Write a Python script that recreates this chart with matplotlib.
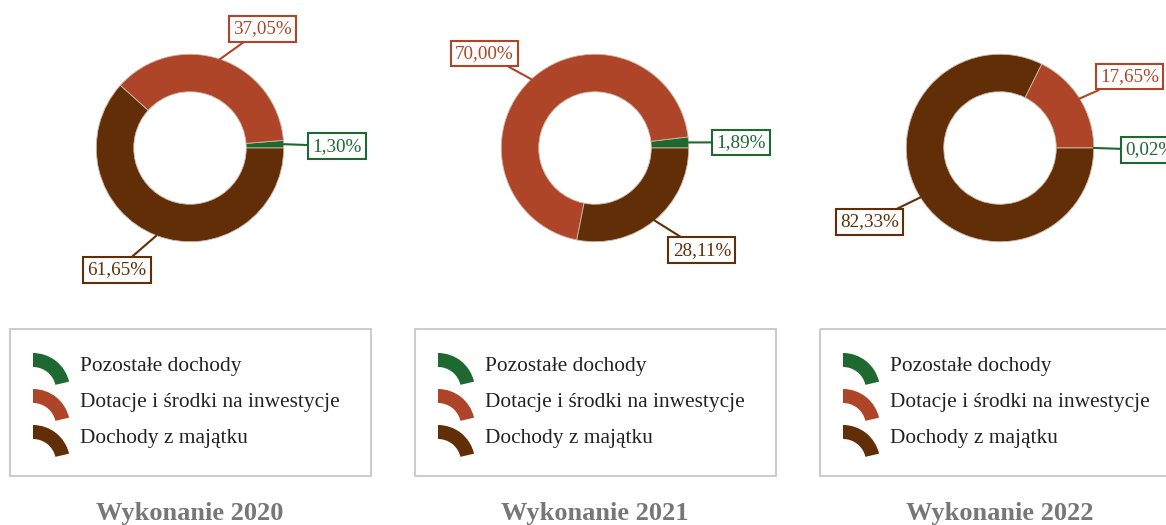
import numpy as np
import matplotlib
matplotlib.use("Agg")
import matplotlib.pyplot as plt
from matplotlib.patches import Wedge, Rectangle

plt.rcParams['font.family'] = ['Liberation Serif', 'DejaVu Serif']

# data
categories = ['Pozostałe dochody', 'Dotacje i środki na inwestycje', 'Dochody z majątku']
titles = ['Wykonanie 2020', 'Wykonanie 2021', 'Wykonanie 2022']
shares_2020 = [1.30, 37.05, 61.65]
shares_2021 = [1.89, 70.00, 28.11]
shares_2022 = [0.02, 17.65, 82.33]
labels_2020 = ['1,30%', '37,05%', '61,65%']
labels_2021 = ['1,89%', '70,00%', '28,11%']
labels_2022 = ['0,02%', '17,65%', '82,33%']

COLORS = ['#1e6930', '#ae4528', '#612e07']

W, H = 1166, 525
fig = plt.figure(figsize=(W / 100, H / 100), dpi=100)

# overlay in pixel coords for legends / titles
bg = fig.add_axes([0, 0, 1, 1])
bg.set_xlim(0, W)
bg.set_ylim(H, 0)
bg.axis('off')

panel_cx = [190, 595, 1000]
cy = 148
half = 150  # half size of pie axes in px, radius 1 -> 93.75 px

# label box positions (data units, relative to donut center)
label_pos = [
    [(1.57, 0.02), (0.77, 1.27), (-0.78, -1.30)],
    [(1.56, 0.06), (-1.18, 1.01), (1.14, -1.09)],
    [(1.60, -0.02), (1.38, 0.76), (-1.39, -0.79)],
]

all_shares = [shares_2020, shares_2021, shares_2022]
all_labels = [labels_2020, labels_2021, labels_2022]

for p, cx in enumerate(panel_cx):
    ax = fig.add_axes([(cx - half) / W, (H - cy - half) / H, 2 * half / W, 2 * half / H])
    vals = all_shares[p]
    wedges, _ = ax.pie(vals, colors=COLORS, startangle=0, counterclock=True, radius=1,
                       wedgeprops=dict(width=0.4, edgecolor='#cdbba9', linewidth=0.6))
    ax.set_xlim(-1.6, 1.6)
    ax.set_ylim(-1.6, 1.6)
    ax.axis('off')

    for i, w in enumerate(wedges):
        mid = np.deg2rad((w.theta1 + w.theta2) / 2)
        ax.annotate(all_labels[p][i], xy=(np.cos(mid), np.sin(mid)),
                    xytext=label_pos[p][i], ha='center', va='center',
                    color=COLORS[i], fontsize=13.8,
                    bbox=dict(boxstyle='square,pad=0.22', fc='white', ec=COLORS[i], lw=1.5),
                    arrowprops=dict(arrowstyle='-', color=COLORS[i], lw=1.5,
                                    shrinkA=0, shrinkB=0),
                    annotation_clip=False)

    # legend box
    lx = cx - 180
    bg.add_patch(Rectangle((lx, 329), 361, 147, fill=False, ec='#cccccc', lw=1.5))
    for i, name in enumerate(categories):
        ytop = 353 + 36 * i
        bg.add_patch(Wedge((lx + 23, ytop + 37), 37, -90, -13, width=14,
                           fc=COLORS[i], ec='none'))
        bg.text(lx + 70, ytop + 13, name, fontsize=15.4, color='#222222',
                ha='left', va='center')

    bg.text(cx, 520, titles[p], fontsize=19, fontweight='bold', color='#777777',
            ha='center', va='baseline')

fig.savefig('out.png', dpi=100)
